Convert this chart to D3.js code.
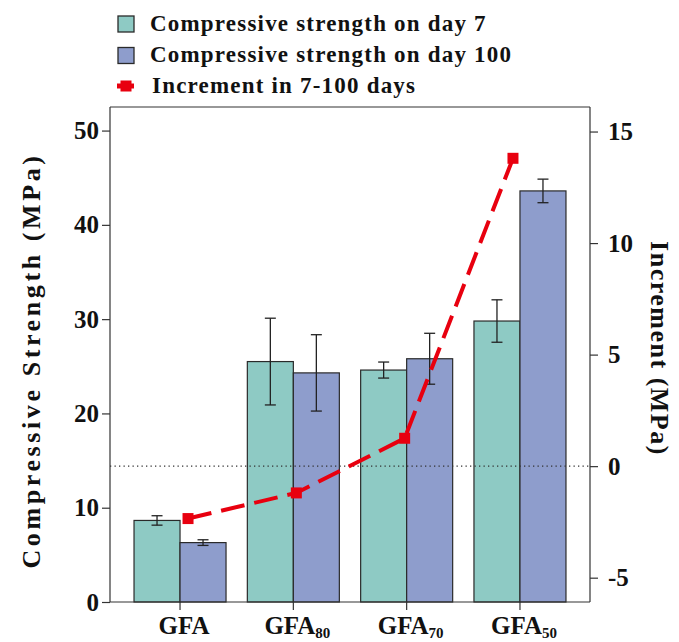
<!DOCTYPE html>
<html>
<head>
<meta charset="utf-8">
<script src="https://cdn.jsdelivr.net/npm/d3@7"></script>
<style>
  html, body { margin: 0; padding: 0; background: #fff; }
  svg { display: block; }
  text { font-family: "Liberation Serif", "Times New Roman", serif; font-weight: bold; fill: #111; }
</style>
</head>
<body>
<svg id="chart" width="679" height="642"></svg>
<script>
// Sample groups (base name + subscript)
const categories = ["GFA", "GFA80", "GFA70", "GFA50"];
const labelBase = ["GFA", "GFA", "GFA", "GFA"];
const labelSub = ["", "80", "70", "50"];

// Compressive strength (MPa) and standard deviations
const day7 = [8.65, 25.5, 24.6, 29.8];
const day7Err = [0.5, 4.6, 0.85, 2.25];
const day100 = [6.3, 24.3, 25.8, 43.6];
const day100Err = [0.3, 4.05, 2.7, 1.25];

// Strength increment between day 7 and day 100 (MPa)
const increment = [-2.35, -1.2, 1.25, 13.8];

const leftTicks = [0, 10, 20, 30, 40, 50];
const rightTicks = [-5, 0, 5, 10, 15];

const seriesNames = ["Compressive strength on day 7", "Compressive strength on day 100", "Increment in 7-100 days"];
const colors = { day7: "#8ecac4", day100: "#8e9dcc", inc: "#e8000f", stroke: "#2a2a2a" };

const W = 679, H = 642;
const margin = { top: 107, right: 89, bottom: 40, left: 110 };
const iw = W - margin.left - margin.right;
const ih = H - margin.top - margin.bottom;

const svg = d3.select("#chart");
const g = svg.append("g").attr("transform", `translate(${margin.left},${margin.top})`);

const x = d3.scaleBand().domain(categories).range([0, iw]).paddingInner(0.188).paddingOuter(0.212);
const xSub = d3.scaleBand().domain(["d7", "d100"]).range([0, x.bandwidth()]);
const yL = d3.scaleLinear().domain([0, 52.5]).range([ih, 0]);
const yR = d3.scaleLinear().domain([-6.09, 16.1]).range([ih, 0]);
// the increment line sits slightly inside the outer group centres
const xLine = d3.scalePoint().domain(categories)
  .range([x(categories[0]) + x.bandwidth() / 2 + 8, x(categories[3]) + x.bandwidth() / 2 - 7]);

// Bars
const groups = g.selectAll(".grp").data(categories).join("g")
  .attr("transform", d => `translate(${x(d)},0)`);

const barData = (i) => [
  { key: "d7", v: day7[i], e: day7Err[i], c: colors.day7 },
  { key: "d100", v: day100[i], e: day100Err[i], c: colors.day100 }
];

groups.each(function(cat, i) {
  const gg = d3.select(this);
  const bd = barData(i);
  gg.selectAll("rect").data(bd).join("rect")
    .attr("x", d => xSub(d.key))
    .attr("y", d => yL(d.v))
    .attr("width", xSub.bandwidth())
    .attr("height", d => ih - yL(d.v))
    .attr("fill", d => d.c)
    .attr("stroke", colors.stroke)
    .attr("stroke-width", 1.2);
  // error bars
  const eb = gg.selectAll(".eb").data(bd).join("g").attr("class", "eb")
    .attr("stroke", "#222").attr("stroke-width", 1.3);
  const cx = d => xSub(d.key) + xSub.bandwidth() / 2;
  eb.append("line").attr("x1", cx).attr("x2", cx)
    .attr("y1", d => yL(d.v + d.e)).attr("y2", d => yL(d.v - d.e));
  eb.append("line").attr("x1", d => cx(d) - 5.5).attr("x2", d => cx(d) + 5.5)
    .attr("y1", d => yL(d.v + d.e)).attr("y2", d => yL(d.v + d.e));
  eb.append("line").attr("x1", d => cx(d) - 5.5).attr("x2", d => cx(d) + 5.5)
    .attr("y1", d => yL(d.v - d.e)).attr("y2", d => yL(d.v - d.e));
});

// Zero reference for the increment axis
g.append("line")
  .attr("x1", 0).attr("x2", iw)
  .attr("y1", yR(0)).attr("y2", yR(0))
  .attr("stroke", "#333").attr("stroke-width", 1.2)
  .attr("stroke-dasharray", "1.3,3.2");

// Frame
g.append("line").attr("x1", 0).attr("x2", iw).attr("y1", 0).attr("y2", 0)
  .attr("stroke", "#333").attr("stroke-width", 1.2);

// Axes (plain hyphen for negative numbers)
const fmt = d => String(d);
const axL = g.append("g").call(d3.axisLeft(yL).tickValues(leftTicks).tickSize(8).tickPadding(3).tickFormat(fmt));
const axR = g.append("g").attr("transform", `translate(${iw},0)`)
  .call(d3.axisRight(yR).tickValues(rightTicks).tickSize(8).tickPadding(10).tickFormat(fmt));
const axB = g.append("g").attr("transform", `translate(0,${ih})`)
  .call(d3.axisBottom(x).tickSize(8).tickFormat(""));
// bottom ticks sit at group centres (between the two bars)
[axL, axR, axB].forEach(a => {
  a.select(".domain").attr("stroke", "#333").attr("stroke-width", 1.2);
  a.selectAll(".tick line").attr("stroke", "#333").attr("stroke-width", 1.2);
  a.selectAll("text").attr("font-size", 25).attr("fill", "#111")
    .attr("font-family", '"Liberation Serif", serif').attr("font-weight", "bold");
});
axR.select(".domain").attr("d", `M0,0V${ih}`);
axL.select(".domain").attr("d", `M0,0V${ih}`);
axB.select(".domain").attr("d", `M0,0H${iw}`);

// Category labels with subscripts
axB.selectAll(".tick").each(function(d, i) {
  const t = d3.select(this).append("text")
    .attr("x", 4).attr("y", 32)
    .attr("text-anchor", "middle")
    .attr("font-size", 25).attr("fill", "#111")
    .attr("font-family", '"Liberation Serif", serif').attr("font-weight", "bold");
  t.append("tspan").text(labelBase[i]);
  if (labelSub[i]) t.append("tspan").attr("font-size", 15).attr("dy", 4).text(labelSub[i]);
});

// Increment line
const line = d3.line().x((d, i) => xLine(categories[i])).y(d => yR(d));
g.append("path").datum(increment)
  .attr("d", line)
  .attr("fill", "none")
  .attr("stroke", colors.inc)
  .attr("stroke-width", 4)
  .attr("stroke-dasharray", "24,10");
g.selectAll(".mk").data(increment).join("rect").attr("class", "mk")
  .attr("x", (d, i) => xLine(categories[i]) - 5.5)
  .attr("y", d => yR(d) - 5.5)
  .attr("width", 11).attr("height", 11)
  .attr("fill", colors.inc);

// Axis titles
svg.append("text")
  .attr("transform", `translate(40,${margin.top + ih / 2 + 6}) rotate(-90)`)
  .attr("text-anchor", "middle")
  .attr("font-size", 26).attr("letter-spacing", 3.6)
  .text("Compressive Strength (MPa)");
svg.append("text")
  .attr("transform", `translate(651,${margin.top + ih / 2 - 6}) rotate(90)`)
  .attr("text-anchor", "middle")
  .attr("font-size", 26).attr("letter-spacing", 1.5)
  .text("Increment (MPa)");

// Legend
const legend = svg.append("g").attr("transform", "translate(118,0)");
const rows = [
  { name: seriesNames[0], type: "box", c: colors.day7, y: 30.5 },
  { name: seriesNames[1], type: "box", c: colors.day100, y: 62 },
  { name: seriesNames[2], type: "line", c: colors.inc, y: 93 }
];
rows.forEach(r => {
  if (r.type === "box") {
    legend.append("rect").attr("x", 0).attr("y", r.y - 14.5).attr("width", 16).attr("height", 16)
      .attr("fill", r.c).attr("stroke", colors.stroke).attr("stroke-width", 1.3);
  } else {
    legend.append("line").attr("x1", -1).attr("x2", 16).attr("y1", r.y - 7).attr("y2", r.y - 7)
      .attr("stroke", r.c).attr("stroke-width", 5);
    legend.append("rect").attr("x", 2.5).attr("y", r.y - 12.5).attr("width", 11).attr("height", 11).attr("fill", r.c);
  }
  legend.append("text").attr("x", r.type === "box" ? 32 : 34).attr("y", r.y)
    .attr("font-size", 23).attr("letter-spacing", 1.2)
    .text(r.name);
});
</script>
</body>
</html>
